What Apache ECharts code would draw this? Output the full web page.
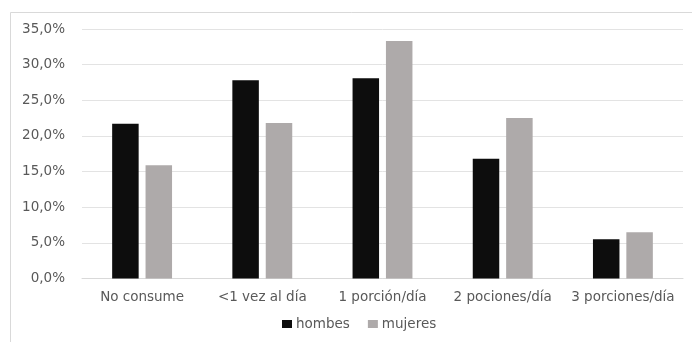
<!DOCTYPE html>
<html>
<head>
<meta charset="utf-8">
<script src="https://cdn.jsdelivr.net/npm/echarts@6/dist/echarts.min.js"></script>
<style>
  html, body { margin: 0; padding: 0; background: #fff; }
  #chart { width: 692px; height: 342px; }
</style>
</head>
<body>
<div id="chart"></div>
<script>
// Consumo diario por sexo (%)
const categories = ['No consume', '<1 vez al día', '1 porción/día', '2 pociones/día', '3 porciones/día'];
const hombres = [21.7, 27.8, 28.1, 16.8, 5.5];
const mujeres = [15.9, 21.8, 33.3, 22.5, 6.5];
const seriesNames = ['hombes', 'mujeres'];

const font = '"DejaVu Sans", sans-serif';
const fontSize = 13.5;
const textColor = '#595959';

const chart = echarts.init(document.getElementById('chart'), null, { renderer: 'canvas' });
chart.setOption({
  animation: false,
  backgroundColor: '#fff',
  graphic: [{
    type: 'rect',
    shape: { x: 10.5, y: 12.5, width: 720, height: 400 },
    style: { fill: 'none', stroke: '#d9d9d9', lineWidth: 1 },
    silent: true,
    z: -1
  }],
  grid: { left: 82, right: 9, top: 29, bottom: 63.5 },
  legend: {
    bottom: 6,
    left: 277,
    itemWidth: 10,
    itemHeight: 8,
    itemGap: 18,
    icon: 'rect',
    textStyle: { fontFamily: font, fontSize: fontSize, color: textColor, padding: [0, 0, 0, -1] },
    data: seriesNames
  },
  xAxis: {
    type: 'category',
    data: categories,
    axisLine: { lineStyle: { color: '#d9d9d9' } },
    axisTick: { show: false },
    axisLabel: { fontFamily: font, fontSize: fontSize, color: textColor, margin: 12, interval: 0 }
  },
  yAxis: {
    type: 'value',
    min: 0,
    max: 35,
    interval: 5,
    axisLine: { show: false },
    axisTick: { show: false },
    splitLine: { lineStyle: { color: '#e3e3e3' } },
    axisLabel: {
      fontFamily: font, fontSize: fontSize, color: textColor, margin: 17,
      formatter: v => v.toFixed(1).replace('.', ',') + '%'
    }
  },
  series: [
    {
      name: seriesNames[0], type: 'bar', data: hombres,
      barWidth: 26.5, barGap: '26%',
      itemStyle: { color: '#0d0d0d' }
    },
    {
      name: seriesNames[1], type: 'bar', data: mujeres,
      barWidth: 26.5,
      itemStyle: { color: '#aeaaaa' }
    }
  ]
});
</script>
</body>
</html>
